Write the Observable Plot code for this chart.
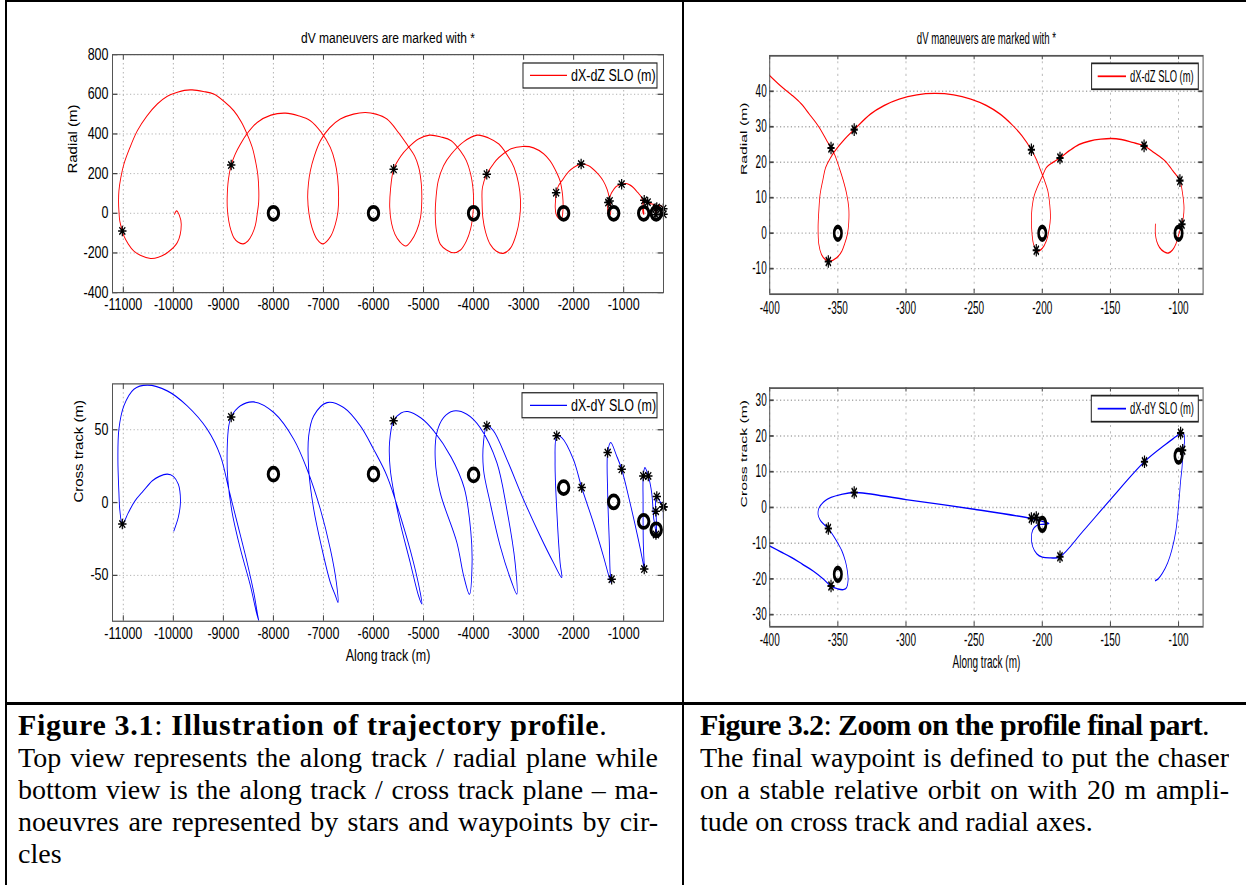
<!DOCTYPE html>
<html>
<head>
<meta charset="utf-8">
<script src="https://cdn.jsdelivr.net/npm/d3@7"></script>
<script src="https://cdn.jsdelivr.net/npm/@observablehq/plot@0.6"></script>
<style>
html,body{margin:0;padding:0;background:#fff;}
#page{position:relative;width:1246px;height:885px;overflow:hidden;background:#fff;}
.bd{position:absolute;background:#000;}
.plot{position:absolute;transform-origin:0 0;}
.cap{position:absolute;font-family:"Liberation Serif","Times New Roman",serif;color:#000;}
.cap .h{height:34px;line-height:34px;font-size:30px;white-space:nowrap;}
.cap .h b{font-weight:bold;}
.cap .l{height:32px;line-height:32px;font-size:28px;text-align:justify;text-align-last:justify;overflow:hidden;}
.cap .l.last{text-align-last:left;}
</style>
</head>
<body>
<div id="page">
  <div class="bd" style="left:5px;top:0;width:1241px;height:2px"></div>
  <div class="bd" style="left:5px;top:0;width:2px;height:885px"></div>
  <div class="bd" style="left:682px;top:0;width:2px;height:885px"></div>
  <div class="bd" style="left:5px;top:702px;width:1241px;height:3px"></div>

  <div class="cap" style="left:18px;top:708px;width:640px">
    <div class="h" style="letter-spacing:0.67px"><b>Figure 3.1</b>: <b>Illustration of trajectory profile</b>.</div>
    <div class="l">Top view represents the along track / radial plane while</div>
    <div class="l">bottom view is the along track / cross track plane – ma-</div>
    <div class="l">noeuvres are represented by stars and waypoints by cir-</div>
    <div class="l last">cles</div>
  </div>
  <div class="cap" style="left:700px;top:708px;width:529px">
    <div class="h" style="letter-spacing:-0.6px"><b>Figure 3.2</b>: <b>Zoom on the profile final part</b>.</div>
    <div class="l">The final waypoint is defined to put the chaser</div>
    <div class="l">on a stable relative orbit on with 20 m ampli-</div>
    <div class="l last">tude on cross track and radial axes.</div>
  </div>
</div>
<script>
// ---------- tick values ----------
const alongTicksFull = [-11000,-10000,-9000,-8000,-7000,-6000,-5000,-4000,-3000,-2000,-1000];
const radialTicksFull = [-400,-200,0,200,400,600,800];
const crossTicksFull = [-50,0,50];
const alongTicksZoom = [-400,-350,-300,-250,-200,-150,-100];
const radialTicksZoom = [-10,0,10,20,30,40];
const crossTicksZoom = [-30,-20,-10,0,10,20,30];

// ---------- trajectory, along track / radial (far part, x < -400 m) ----------
const radialFar = [
 [-9976,-5],[-9936,12],[-9880,-10],[-9842,-56],[-9922,-148],[-10122,-199],[-10300,-222],[-10455,-228],
 [-10650,-213],[-10788,-191],[-10900,-155],[-10988,-115],[-11020,-89],[-11070,-40],[-11088,12],[-11095,60],
 [-11088,113],[-11050,180],[-10988,248],[-10870,330],[-10720,416],[-10530,490],[-10321,551],[-10120,590],
 [-9922,610],[-9780,620],[-9623,622],[-9400,614],[-9192,601],[-8990,565],[-8792,517],[-8640,460],[-8525,399],
 [-8420,330],[-8359,264],[-8310,190],[-8292,113],[-8295,55],[-8325,-5],[-8360,-60],[-8425,-106],[-8510,-140],
 [-8605,-154],[-8710,-145],[-8792,-123],[-8850,-85],[-8892,-39],[-8920,20],[-8924,79],[-8900,170],[-8844,243],
 [-8760,300],[-8659,349],[-8500,410],[-8325,458],[-8050,495],[-7760,505],[-7500,492],[-7262,467],[-7050,410],
 [-6862,332],[-6770,260],[-6717,180],[-6697,79],[-6710,10],[-6763,-56],[-6860,-118],[-7008,-154],[-7130,-130],
 [-7228,-73],[-7290,0],[-7315,79],[-7300,150],[-7262,214],[-7180,290],[-7062,365],[-6880,430],[-6663,475],
 [-6400,500],[-6164,508],[-5950,500],[-5731,475],[-5499,407],[-5312,340],[-5180,290],[-5095,231],[-5045,150],
 [-5035,62],[-5060,-20],[-5139,-89],[-5250,-140],[-5355,-165],[-5470,-145],[-5571,-106],[-5640,-50],[-5675,29],
 [-5660,120],[-5597,222],[-5450,290],[-5312,330],[-5100,375],[-4879,394],[-4650,385],[-4446,366],[-4250,310],
 [-4143,265],[-4060,200],[-4013,130],[-4000,60],[-4013,-5],[-4060,-80],[-4143,-140],[-4260,-185],[-4403,-199],
 [-4540,-185],[-4662,-157],[-4740,-90],[-4766,-5],[-4750,80],[-4706,163],[-4600,240],[-4446,298],[-4200,360],
 [-3926,394],[-3700,380],[-3494,349],[-3330,295],[-3190,231],[-3100,150],[-3061,62],[-3080,-25],[-3147,-106],
 [-3260,-175],[-3407,-202],[-3550,-190],[-3667,-157],[-3760,-95],[-3814,-22],[-3830,60],[-3823,130],[-3736,197],
 [-3600,250],[-3494,281],[-3250,325],[-3017,337],[-2800,330],[-2600,300],[-2470,264],[-2330,200],[-2270,163],
 [-2230,110],[-2212,62],[-2215,10],[-2240,-25],[-2300,-25],[-2350,-5],[-2368,30],[-2360,70],[-2350,104],
 [-2300,140],[-2238,163],[-2100,210],[-2006,230],[-1850,248],[-1700,240],[-1607,222],[-1500,195],[-1407,163],
 [-1330,120],[-1287,79],[-1260,28],[-1265,-5],[-1290,-10],[-1315,10],[-1320,35],[-1307,54],[-1280,80],
 [-1240,104],[-1150,135],[-1040,147],[-950,150],[-870,142],[-808,130],[-720,105],[-640,79],[-608,28],
 [-595,-5],[-610,0],[-620,30],[-600,55],[-575,68],[-520,56],[-470,49]
];
// ---------- along track / radial, final part (from -400 m) ----------
const radialZoom = [
 [-400,44.4],[-392,41.5],[-384,39],[-377,36.5],[-371,33.6],[-364,30],[-358,26],[-355,24],[-352.5,22.3],
 [-349,18.5],[-346,14.8],[-343.5,11],[-342,7.2],[-342,3],[-343,-0.3],[-345,-3],[-347,-5],[-351,-7],[-356,-7.9],
 [-359,-7.5],[-362,-6],[-364,-3],[-364.5,1.6],[-364,6],[-363,11],[-361,15],[-359,18.5],[-355,21.5],[-352.5,23],
 [-345,26.5],[-338,29.2],[-326,33.6],[-316,36],[-305,37.8],[-292,39],[-279,39.4],[-265,39],[-252.4,37.8],
 [-241,36],[-231,33.6],[-222,30.5],[-215,27.5],[-208,23.5],[-204,20.5],[-202,18.5],[-198.5,15],[-196,12],
 [-194.5,8],[-194,4.4],[-195,1],[-197,-2.2],[-200,-4.3],[-202.5,-5],[-204.4,-4.8],[-206.5,-3],[-207.5,-0.3],
 [-208,3.5],[-207.5,7.2],[-206,10.5],[-203.6,13],[-200,16],[-197,18.5],[-192,20],[-187,21.2],[-180,23.3],
 [-173,25],[-165,26],[-157,26.5],[-149.5,26.7],[-142,26.4],[-134,25.6],[-125.3,24.6],[-118,22.7],[-110,20.4],
 [-104,17.5],[-99,14.8],[-97,11],[-96,7.2],[-96.5,4.5],[-98,2],[-100,-0.5],[-102,-3.1],[-104.5,-4.8],
 [-107.4,-5.6],[-110.5,-5.3],[-114,-4],[-116,-2.3],[-117,-0.3],[-117,2.5]
];
// ---------- along track / cross track (far part) ----------
const crossFar = [
 [-9990,-19.5],[-9900,-10],[-9860,-1],[-9870,8],[-9900,12.6],[-10000,18],[-10120,19.5],[-10280,18],[-10420,15],
 [-10600,8],[-10770,1],[-10900,-7],[-11020,-14.8],[-11070,-5],[-11088,6.9],[-11108,29.8],[-11088,50.4],
 [-10988,66.4],[-10788,77.8],[-10521,80.6],[-10122,76.7],[-9723,66.4],[-9324,50.4],[-9058,32],[-8892,9.2],
 [-8725,-13.7],[-8525,-41.2],[-8392,-61.8],[-8312,-77.8],[-8292,-81.2],[-8339,-75.5],[-8459,-57.2],[-8659,-32],
 [-8825,-6.9],[-8912,16],[-8924,36.6],[-8892,52.6],[-8844,58.8],[-8659,66.4],[-8392,69.1],[-7993,61.8],
 [-7594,43.5],[-7328,22.9],[-7062,-4.5],[-6862,-32],[-6742,-54.9],[-6709,-68.6],[-6760,-64],[-6862,-54.9],
 [-7028,-32],[-7195,-4.5],[-7295,22.9],[-7295,45.8],[-7195,59.5],[-6928,68.6],[-6597,65.2],[-6263,52.6],
 [-5998,36.6],[-5731,18.3],[-5465,-9.1],[-5200,-41.2],[-5066,-61.8],[-5032,-69.7],[-5100,-64],[-5266,-41.2],
 [-5499,-9.1],[-5665,22.9],[-5679,41.2],[-5599,56.1],[-5450,61.5],[-5312,62.5],[-5050,58],[-4792,49],
 [-4446,31],[-4186,10],[-4056,-19.5],[-4030,-42],[-4082,-63],[-4200,-50],[-4333,-27.5],[-4667,6.9],
 [-4766,29.8],[-4733,48],[-4600,58.3],[-4401,62.9],[-4134,60.7],[-3868,51.5],[-3535,27.5],[-3336,-4.5],
 [-3170,-41.2],[-3136,-62.9],[-3236,-54.9],[-3469,-29.7],[-3669,0],[-3802,22.9],[-3802,41.2],[-3735,52.6],
 [-3602,49.2],[-3336,29.8],[-3004,2.3],[-2670,-22.9],[-2405,-41.2],[-2238,-51.5],[-2271,-41.2],[-2338,-4.5],
 [-2371,27.5],[-2338,45.8],[-2238,44.6],[-2006,29.8],[-1839,10.3],[-1607,-13.7],[-1407,-36.6],[-1300,-50],
 [-1250,-55],[-1270,-48],[-1287,-27.5],[-1320,6.9],[-1320,34.3],[-1260,41.2],[-1140,32],[-1040,22.9],
 [-874,0],[-708,-25.2],[-620,-40],[-589,-45.7],[-600,-35],[-608,-27.5],[-612,0],[-608,18.3],[-575,24],
 [-508,18.3],[-441,6.9]
];
// ---------- along track / cross track, final part ----------
const crossZoom = [
 [-400,-10.8],[-392,-12.4],[-384,-14],[-376,-15.9],[-368,-17.8],[-361,-19.9],[-355,-22],[-350,-22.8],[-346,-23],
 [-343.5,-22.4],[-342.5,-20.5],[-343,-17.8],[-344.5,-15],[-347,-12.2],[-350,-10],[-352.5,-8.4],[-357,-5.9],
 [-360,-4.8],[-363,-3.5],[-364.5,-2],[-364,-0.3],[-362,0.9],[-359,2],[-355,2.8],[-348,3.6],[-338,4.2],
 [-300,2.2],[-250,-0.5],[-208,-3.1],[-200,-3.9],[-195,-4.5],[-199,-4.7],[-204,-5],[-207,-6.3],[-208,-8.5],
 [-207,-11],[-204,-13],[-200,-13.9],[-194,-14.1],[-187,-13.8],[-170,-6.6],[-150,2.2],[-125,12.8],[-110,17.5],
 [-102,19.8],[-98.5,20.8],[-96,20.4],[-95.6,18.5],[-96.6,16],[-97.5,11],[-98.5,7.4],[-99.7,1.8],[-102,-6.6],
 [-105,-12],[-108,-15.5],[-112,-18.5],[-115,-20],[-117,-20.5]
];
// ---------- waypoints (circles) ----------
const radialWaypointsFar = [[-8000,0],[-6000,0],[-4000,0],[-2200,0],[-1200,0],[-600,0]];
const radialWaypointsZoom = [[-350,0],[-200,0],[-100,0]];
const crossWaypointsFar = [[-8000,19.5],[-6000,19.5],[-4000,19],[-2200,10.3],[-1200,0.5],[-600,-13]];
const crossWaypointsZoom = [[-350,-18.7],[-200,-4.7],[-100,14.4]];
// ---------- dV maneuvers (stars) ----------
const radialStarsFar = [[-11020,-89],[-8844,243],[-5597,222],[-3736,197],[-2350,104],[-1850,248],[-1307,54],[-1280,62],[-1040,147],[-589,66],[-520,56]];
const radialStarsZoom = [[-355,24],[-338,29.2],[-357,-8],[-208,23.5],[-204.4,-4.8],[-187,21.2],[-125.3,24.6],[-99,14.8],[-97.5,2.5]];
const crossStarsFar = [[-11020,-14.8],[-8844,58.8],[-5599,56.1],[-3735,52.6],[-2338,45.8],[-1839,10.3],[-1240,-52.6],[-1320,34.3],[-1040,22.9],[-589,-45.7],[-608,18.3],[-508,18.3]];
const crossStarsZoom = [[-355,-22],[-357,-5.9],[-338,4.2],[-208,-3.1],[-204.4,-2.8],[-187,-13.8],[-125,12.8],[-98.5,20.8],[-97,16]];

const titleText = "dV maneuvers are marked with *";
const FONT = '"Liberation Sans", Arial, Helvetica, sans-serif';

// MATLAB-like '*' marker (+ and x)
const asterisk = {
  draw(ctx, size) {
    const r = Math.sqrt(size / Math.PI), d = r * 0.7071;
    ctx.moveTo(-r, 0); ctx.lineTo(r, 0);
    ctx.moveTo(0, -r); ctx.lineTo(0, r);
    ctx.moveTo(-d, -d); ctx.lineTo(d, d);
    ctx.moveTo(-d, d); ctx.lineTo(d, -d);
  }
};

function panel(cfg) {
  const m = cfg.margin;
  const fw = cfg.width - m.left - m.right;
  const fh = cfg.height - m.top - m.bottom;
  const [x0, x1] = cfg.xDomain, [y0, y1] = cfg.yDomain;
  const tx = (y1 - y0) * (cfg.tickLen / cfg.s) / fh;
  const ty = (x1 - x0) * cfg.tickLen / fw;
  const inside = d => d[0] >= x0 && d[0] <= x1 && d[1] >= y0 && d[1] <= y1;
  const grid = {stroke: "#aaaaaa", strokeOpacity: 1, strokeWidth: 0.8, strokeDasharray: "1.2,2.4"};
  const svg = Plot.plot({
    width: cfg.width, height: cfg.height,
    marginTop: m.top, marginRight: m.right, marginBottom: m.bottom, marginLeft: m.left,
    x: {domain: cfg.xDomain}, y: {domain: cfg.yDomain},
    style: {fontFamily: FONT, fontSize: cfg.tickFont + "px", background: "none", overflow: "visible", color: "#000"},
    marks: [
      Plot.gridX(cfg.xTicks, grid),
      Plot.gridY(cfg.yTicks, grid),
      Plot.ruleX(cfg.xTicks, {y1: y0, y2: y0 + tx, stroke: "#444"}),
      Plot.ruleX(cfg.xTicks, {y1: y1, y2: y1 - tx, stroke: "#444"}),
      Plot.ruleY(cfg.yTicks, {x1: x0, x2: x0 + ty, stroke: "#444"}),
      Plot.ruleY(cfg.yTicks, {x1: x1, x2: x1 - ty, stroke: "#444"}),
      Plot.line(cfg.line, {x: d => d[0], y: d => d[1], stroke: cfg.color, strokeWidth: cfg.lineWidth, curve: "catmull-rom", clip: true}),
      Plot.dot(cfg.waypoints.filter(inside), {x: d => d[0], y: d => d[1], r: cfg.circleR, stroke: "#000", strokeWidth: cfg.circleW, fill: "none"}),
      Plot.dot(cfg.stars.filter(inside), {x: d => d[0], y: d => d[1], r: cfg.starR, symbol: asterisk, stroke: "#000", strokeWidth: 1.2, fill: "none"}),
      Plot.frame({stroke: "#555", strokeWidth: 1}),
      Plot.axisX(cfg.xTicks, {tickSize: 0, tickPadding: cfg.xPad, tickFormat: d => String(d), label: null, fontSize: cfg.tickFont}),
      Plot.axisY(cfg.yTicks, {tickSize: 0, tickPadding: cfg.yPad, tickFormat: d => String(d), label: null, fontSize: cfg.tickFont}),
      Plot.text([cfg.yLabel], {text: d => d, frameAnchor: "left", lineAnchor: "middle", dx: cfg.yLabelDx, rotate: -90, fontSize: cfg.labelFont}),
      cfg.xLabel ? Plot.text([cfg.xLabel], {text: d => d, frameAnchor: "bottom", lineAnchor: "middle", dy: cfg.xLabelDy, fontSize: cfg.xLabelFont}) : null,
      cfg.title ? Plot.text([cfg.title], {text: d => d, frameAnchor: "top", lineAnchor: "middle", dy: cfg.titleDy, fontSize: cfg.titleFont}) : null
    ]
  });
  // legend box
  const L = cfg.legend;
  const g = d3.select(svg).append("g");
  g.append("rect").attr("x", L.x).attr("y", L.y).attr("width", L.w).attr("height", L.h)
    .attr("fill", "#fff").attr("stroke", "#222").attr("stroke-width", 1);
  g.append("line").attr("x1", L.lx1).attr("x2", L.lx2).attr("y1", L.y + L.h / 2).attr("y2", L.y + L.h / 2)
    .attr("stroke", cfg.color).attr("stroke-width", 1);
  g.append("text").attr("x", L.tx).attr("y", L.y + L.h / 2).attr("dy", "0.35em")
    .attr("text-anchor", "start")
    .attr("font-size", L.font).attr("font-family", FONT).attr("fill", "#000").text(L.label);
  svg.classList.add("plot");
  svg.style.left = cfg.left + "px";
  svg.style.top = cfg.top + "px";
  svg.style.transform = `scaleY(${cfg.s})`;
  document.getElementById("page").appendChild(svg);
}

const leftCommon = {
  left: 0, width: 683, s: 1.25, xDomain: [-11216, -204], xTicks: alongTicksFull,
  tickFont: 12.5, labelFont: 12, titleFont: 12, xLabelFont: 12.5,
  xPad: 5, yPad: 4, tickLen: 5.5, lineWidth: 0.9, circleR: 5.2, circleW: 3, starR: 4.2
};
const rightCommon = {
  left: 683, width: 563, s: 1.75, xDomain: [-400, -82], xTicks: alongTicksZoom,
  tickFont: 10, labelFont: 9, titleFont: 9.6, xLabelFont: 10,
  xPad: 4, yPad: 3, tickLen: 4.3, lineWidth: 0.8, circleR: 3.7, circleW: 2.6, starR: 3.6
};

// Top-left: along track / radial
panel({...leftCommon, top: 0, height: 259.6,
  margin: {top: 43.2, right: 20, bottom: 26, left: 112},
  yDomain: [-400, 800], yTicks: radialTicksFull,
  line: radialFar.concat(radialZoom), stars: radialStarsFar.concat(radialStarsZoom),
  waypoints: radialWaypointsFar.concat(radialWaypointsZoom), color: "#ff0000",
  yLabel: "Radial (m)", yLabelDx: -39.5, title: titleText, titleDy: -13.4,
  legend: {x: 523, y: 50.4, w: 134, h: 20, lx1: 530, lx2: 567, tx: 571, font: 12.5, label: "dX-dZ SLO (m)"}
});
// Bottom-left: along track / cross track
panel({...leftCommon, top: 330, height: 272.5,
  margin: {top: 42.6, right: 20, bottom: 40, left: 112},
  yDomain: [-81.5, 81.5], yTicks: crossTicksFull,
  line: crossFar.concat(crossZoom), stars: crossStarsFar.concat(crossStarsZoom),
  waypoints: crossWaypointsFar.concat(crossWaypointsZoom), color: "#0000ff",
  yLabel: "Cross track (m)", yLabelDx: -33, xLabel: "Along track (m)", xLabelDy: 27.4,
  legend: {x: 522, y: 50.2, w: 135, h: 20, lx1: 530, lx2: 567, tx: 571, font: 12.5, label: "dX-dY SLO (m)"}
});
// Top-right: zoom, along track / radial
panel({...rightCommon, top: 0, height: 189.6,
  margin: {top: 31.4, right: 43.4, bottom: 22, left: 86.2},
  yDomain: [-17.2, 50], yTicks: radialTicksZoom,
  line: radialZoom, stars: radialStarsZoom, waypoints: radialWaypointsZoom, color: "#ff0000",
  yLabel: "Radial (m)", yLabelDx: -26, title: titleText, titleDy: -10,
  legend: {x: 408.6, y: 36.2, w: 106.7, h: 14.8, lx1: 414.7, lx2: 443, tx: 447, font: 9.4, label: "dX-dZ SLO (m)"}
});
// Bottom-right: zoom, along track / cross track
panel({...rightCommon, top: 330, height: 201.1,
  margin: {top: 32.7, right: 43.4, bottom: 32, left: 86.2},
  yDomain: [-33.4, 33.4], yTicks: crossTicksZoom,
  line: crossZoom, stars: crossStarsZoom, waypoints: crossWaypointsZoom, color: "#0000ff",
  yLabel: "Cross track (m)", yLabelDx: -26, xLabel: "Along track (m)", xLabelDy: 20.4,
  legend: {x: 408.3, y: 37.5, w: 107, h: 14.9, lx1: 414.7, lx2: 443, tx: 447, font: 9.4, label: "dX-dY SLO (m)"}
});
</script>
</body>
</html>
